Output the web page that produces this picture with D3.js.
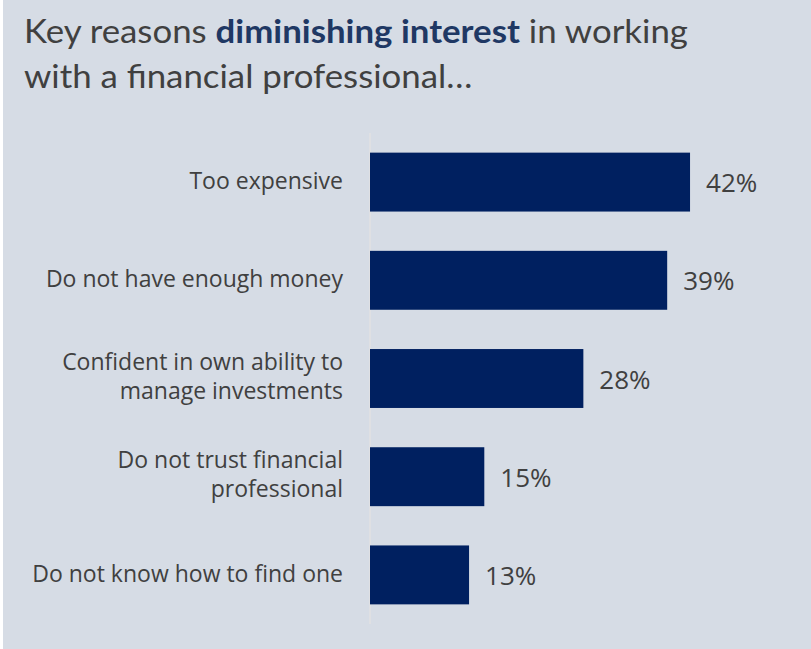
<!DOCTYPE html>
<html>
<head>
<meta charset="utf-8">
<script src="https://cdn.jsdelivr.net/npm/d3@7"></script>
<style>
  body { margin: 0; background: #ffffff; }
  text { font-family: "Open Sans", sans-serif; }
</style>
</head>
<body>
<div id="main"></div>
<script>
// chart values
var categories = [
    "Too expensive",
    "Do not have enough money",
    "Confident in own ability to\nmanage investments",
    "Do not trust financial\nprofessional",
    "Do not know how to find one"
];
var values = [42, 39, 28, 15, 13];
var valueLabels = ["42%", "39%", "28%", "15%", "13%"];
var titleLine1 = [
    { t: "Key reasons ", bold: false },
    { t: "diminishing interest", bold: true },
    { t: " in working", bold: false }
];
var titleLine2 = "with a financial professional…";

var ctx = { w: 811, h: 649 };

var createViz = function() {
    var svg = d3.select("#main").append("svg")
        .attr("width", ctx.w)
        .attr("height", ctx.h);

    svg.append("rect")
        .attr("x", 3).attr("y", 0)
        .attr("width", ctx.w - 3).attr("height", ctx.h)
        .attr("fill", "#d6dce5");

    // title
    var title = svg.append("g").attr("id", "titleG");
    var t1 = title.append("text")
        .attr("x", 24).attr("y", 43)
        .attr("xml:space", "preserve")
        .style("font-family", "Lato, sans-serif")
        .style("font-size", "32px")
        .attr("fill", "#404040");
    titleLine1.forEach(function(p) {
        t1.append("tspan")
            .text(p.t)
            .attr("font-weight", p.bold ? "bold" : "normal")
            .attr("fill", p.bold ? "#1f3864" : "#404040")
            .style("white-space", "pre");
    });
    title.append("text")
        .attr("x", 24).attr("y", 88)
        .style("font-family", "Lato, sans-serif")
        .style("font-size", "32px")
        .attr("fill", "#404040")
        .text(titleLine2);

    // squeeze the title to the width of the original line
    var w1 = t1.node().getComputedTextLength();
    var sx = 664 / w1;
    title.attr("transform", "translate(24,0) scale(" + sx + ",1) translate(-24,0)");

    // scales
    var x = d3.scaleLinear().domain([0, 50]).range([370, 751]);
    var y = d3.scaleBand().domain(categories)
        .range([133, 624])
        .paddingInner(0.4)
        .paddingOuter(0.2);

    // axis line
    svg.append("line")
        .attr("x1", x(0)).attr("x2", x(0))
        .attr("y1", y.range()[0]).attr("y2", y.range()[1])
        .attr("stroke", "#e2e2e2")
        .attr("stroke-width", 1.5);

    var g = svg.append("g");

    g.selectAll("rect.bar")
        .data(values)
        .join("rect")
        .attr("class", "bar")
        .attr("x", x(0))
        .attr("y", (d, i) => y(categories[i]))
        .attr("width", d => x(d) - x(0))
        .attr("height", y.bandwidth())
        .attr("fill", "#002060");

    g.selectAll("text.val")
        .data(values)
        .join("text")
        .attr("class", "val")
        .attr("x", d => x(d) + 16)
        .attr("y", (d, i) => y(categories[i]) + y.bandwidth() / 2 + 10)
        .attr("fill", "#404040")
        .style("font-size", "26px")
        .text((d, i) => valueLabels[i]);

    // category labels, split on line breaks
    categories.forEach(function(c, i) {
        var lines = c.split("\n");
        var cy = y(c) + y.bandwidth() / 2;
        var lab = g.append("text")
            .attr("text-anchor", "end")
            .attr("fill", "#404040")
            .style("font-size", "23px");
        lines.forEach(function(l, j) {
            var base = lines.length == 1 ? cy + 7 : cy - 9 + j * 29;
            lab.append("tspan")
                .attr("x", 343)
                .attr("y", base)
                .text(l);
        });
    });
};

createViz();
</script>
</body>
</html>
